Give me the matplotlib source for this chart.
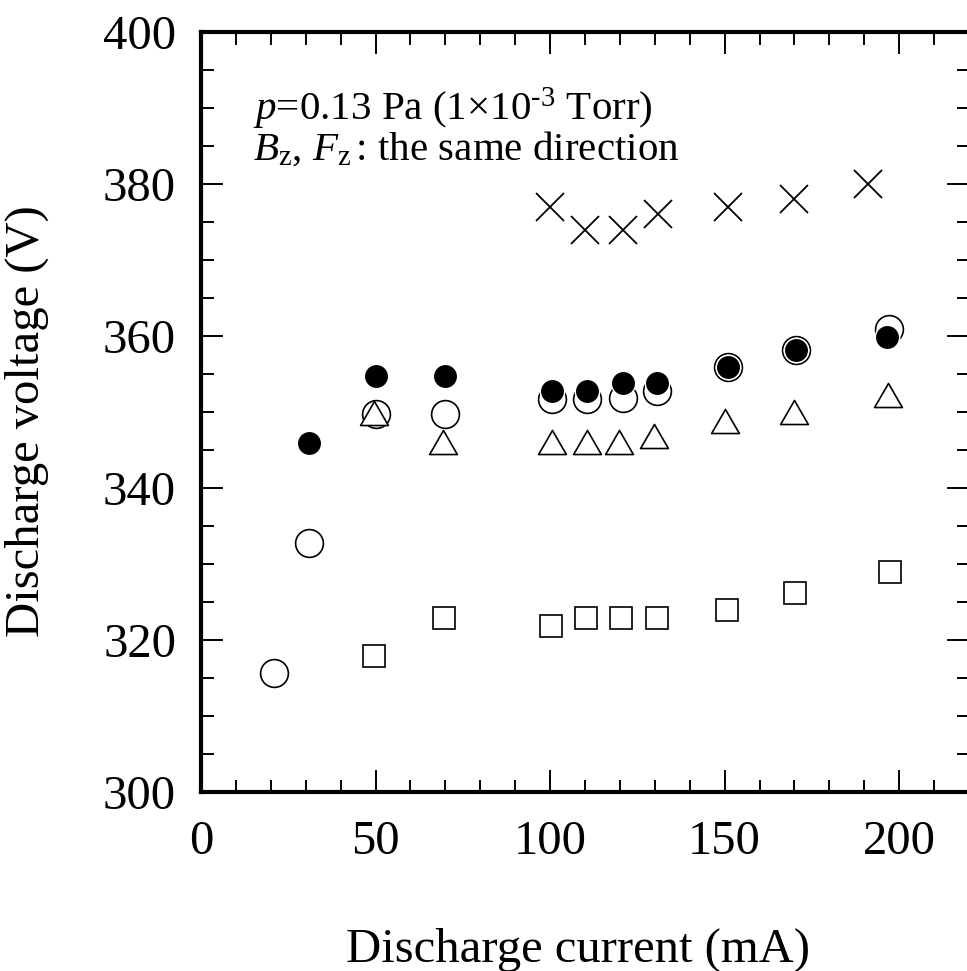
import matplotlib
matplotlib.use("Agg")
import matplotlib.pyplot as plt
from matplotlib.path import Path
from matplotlib.ticker import MultipleLocator

plt.rcParams['font.family'] = ['Liberation Serif', 'DejaVu Serif']
plt.rcParams['mathtext.fontset'] = 'custom'
plt.rcParams['mathtext.rm'] = 'Liberation Serif'
plt.rcParams['mathtext.it'] = 'Liberation Serif:italic'

# Data (discharge current mA, discharge voltage V)
cross_x = [100, 110, 121, 131, 151, 170, 191]
cross_y = [377, 374, 374, 376, 377, 378, 380]

open_x = [21, 31, 50, 70, 100.5, 110.5, 121, 130.5, 151, 170.5, 197]
open_y = [315.6, 332.8, 349.8, 349.8, 351.7, 351.7, 351.9, 352.8, 355.9, 358.2, 360.9]

filled_x = [31, 50, 70, 100.5, 110.5, 121, 130.5, 151, 170.5, 196.5]
filled_y = [345.9, 354.7, 354.7, 352.8, 352.8, 353.8, 353.8, 355.9, 358.2, 359.9]

tri_x = [49.6, 69.2, 100.5, 110.5, 119.8, 129.8, 150, 170, 196.8]
tri_y = [349.9, 346.0, 346.0, 346.0, 346.0, 346.8, 348.8, 350.0, 352.2]

sq_x = [49.6, 69.5, 100.2, 110.3, 120.3, 130.5, 150.7, 170.2, 197.4]
sq_y = [317.9, 322.9, 321.8, 322.9, 322.9, 322.9, 324.0, 326.2, 329.0]

xlabel = "Discharge current (mA)"
ylabel = "Discharge voltage (V)"

fig = plt.figure(figsize=(9.67, 9.71), dpi=100)
ax = fig.add_axes([201/967, 1-792/971, 768/967, 760/971])
ax.set_xlim(0, 220)
ax.set_ylim(300, 400)

tri = Path([(0, 0.866), (-1, -0.866), (1, -0.866), (0, 0.866)],
           [Path.MOVETO, Path.LINETO, Path.LINETO, Path.CLOSEPOLY])

ax.plot(cross_x, cross_y, ls='none', marker='x', ms=20, mec='black', mew=1.3, zorder=3)
ax.plot(open_x, open_y, ls='none', marker='o', ms=20, mfc='white', mec='black', mew=1.2, zorder=3)
ax.plot(filled_x, filled_y, ls='none', marker='o', ms=17.5, mfc='black', mec='white', mew=1.0, zorder=4)
ax.plot(tri_x, tri_y, ls='none', marker=tri, ms=20, mfc='white', mec='black', mew=1.2, zorder=5)
ax.plot(sq_x, sq_y, ls='none', marker='s', ms=15.5, mfc='white', mec='black', mew=1.2, zorder=3)

for side in ['left', 'bottom', 'top']:
    ax.spines[side].set_linewidth(3)
ax.spines['right'].set_visible(False)

ax.xaxis.set_major_locator(MultipleLocator(50))
ax.xaxis.set_minor_locator(MultipleLocator(10))
ax.yaxis.set_major_locator(MultipleLocator(20))
ax.yaxis.set_minor_locator(MultipleLocator(5))
ax.tick_params(which='both', direction='in', top=True, right=True, width=1.4)
ax.tick_params(which='major', length=16)
ax.tick_params(which='minor', length=9)
ax.tick_params(axis='x', which='major', labelsize=35, pad=20)
ax.tick_params(axis='y', which='major', labelsize=35, pad=18)

fig.text(578/967, 1-950/971, xlabel, fontsize=35, ha='center', va='center')
fig.text(27/967, 1-421/971, ylabel, fontsize=35, ha='center', va='center', rotation=90)

fig.text(253/967, 1-120/971, r'$\mathit{p}$=0.13 Pa (1×10$^{\text{-3}}$ Torr)',
         fontsize=29.5, ha='left', va='baseline')
fig.text(253/967, 1-160/971, r'$\mathit{B}_{\mathregular{z}}$, $\mathit{F}_{\mathregular{z}}\,$: the same direction',
         fontsize=29.5, ha='left', va='baseline')

fig.savefig('out.png', dpi=100)
